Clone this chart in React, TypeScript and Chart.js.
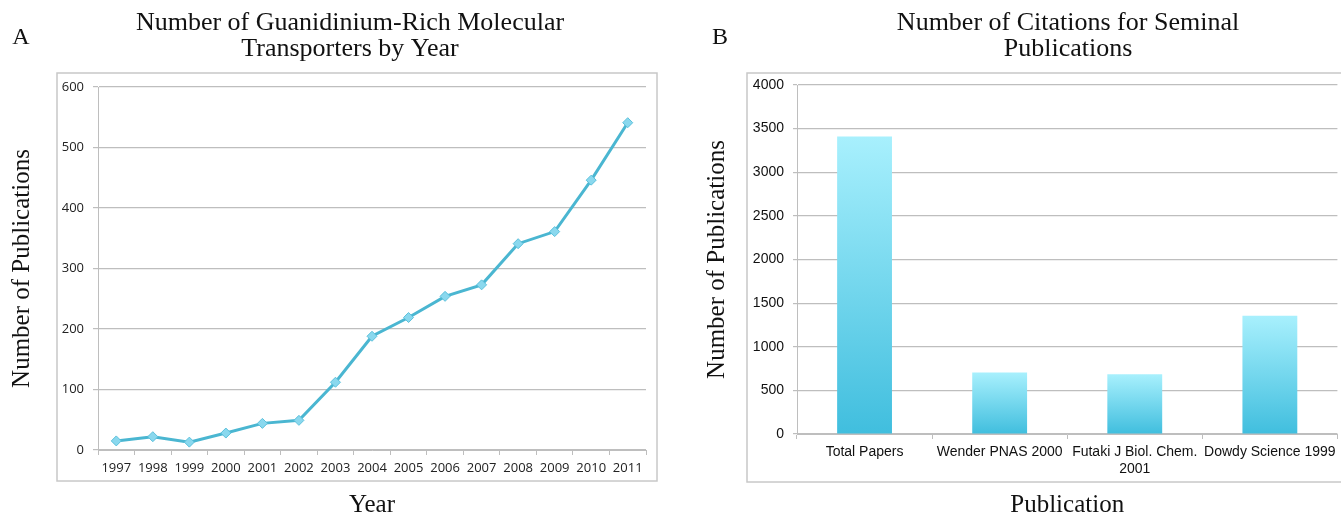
import React, { useEffect, useRef } from "react";
import { Chart, registerables } from "chart.js";

Chart.register(...registerables);

// ---------- Data ----------
const years = ["1997", "1998", "1999", "2000", "2001", "2002", "2003", "2004", "2005", "2006", "2007", "2008", "2009", "2010", "2011"];
const transporterCounts = [15, 22, 13, 28, 44, 49, 112, 188, 219, 254, 273, 341, 361, 446, 541];
const yMaxA = 600;
const yStepA = 100;

const publications: (string | string[])[] = ["Total Papers", "Wender PNAS 2000", ["Futaki J Biol. Chem.", "2001"], "Dowdy Science 1999"];
const citationCounts = [3410, 705, 685, 1355];
const yMaxB = 4000;
const yStepB = 500;

const titleA = ["Number of Guanidinium-Rich Molecular", "Transporters by Year"];
const titleB = ["Number of Citations for Seminal", "Publications"];
const yTitle = "Number of Publications";
const xTitleA = "Year";
const xTitleB = "Publication";

// ---------- Styling ----------
const SERIF = '"Liberation Serif", "Times New Roman", serif';
const GRID = "#BEBEBE";
const BOX = "#C8C8C8";
const H = 515;

const decorPlugin = {
  id: "decor",
  beforeDraw(chart: any, _args: any, opts: any) {
    const ctx = chart.ctx;
    ctx.save();
    ctx.fillStyle = "#ffffff";
    ctx.fillRect(0, 0, chart.width, chart.height);
    const [l, t, r, b] = opts.box;
    ctx.strokeStyle = BOX;
    ctx.lineWidth = 1.5;
    ctx.strokeRect(l, t, r - l, b - t);
    ctx.restore();
  },
  afterDraw(chart: any, _args: any, opts: any) {
    const ctx = chart.ctx;
    ctx.save();
    ctx.fillStyle = "#111";
    ctx.textBaseline = "middle";
    ctx.textAlign = "center";
    ctx.font = `24px ${SERIF}`;
    ctx.fillText(opts.letter, opts.letterX, opts.letterY);
    ctx.font = `26px ${SERIF}`;
    opts.title.forEach((line: string, i: number) => {
      ctx.fillText(line, opts.titleX, opts.titleY + i * 26);
    });
    ctx.restore();
  },
};

function makeLineConfig(): any {
  return {
    type: "line",
    data: {
      labels: years,
      datasets: [
        {
          data: transporterCounts,
          borderColor: "#4AB6D1",
          borderWidth: 3,
          pointStyle: "rectRot",
          pointRadius: 5,
          pointBackgroundColor: "#8AD8EE",
          pointBorderColor: "#5CC1DC",
          pointBorderWidth: 1,
          tension: 0,
        },
      ],
    },
    options: {
      responsive: false,
      animation: false,
      devicePixelRatio: 1,
      layout: { padding: { top: 87, right: 24, left: 0, bottom: 0 } },
      plugins: {
        legend: { display: false },
        tooltip: { enabled: false },
        decor: {
          box: [57, 73, 657, 481],
          letter: "A",
          letterX: 21,
          letterY: 38,
          title: titleA,
          titleX: 350,
          titleY: 23,
        },
      },
      scales: {
        x: {
          offset: true,
          grid: { display: true, drawOnChartArea: false, drawTicks: true, tickLength: 5, offset: true, color: GRID },
          border: { color: GRID },
          ticks: { color: "#222", font: { family: '"Open Sans", sans-serif', size: 13 }, padding: 5, maxRotation: 0, autoSkip: false },
          title: { display: true, text: xTitleA, color: "#111", font: { family: SERIF, size: 25, lineHeight: 0.8 }, padding: { top: 0, bottom: 0 } },
          afterFit: (s: any) => {
            s.height = 65;
          },
        },
        y: {
          min: 0,
          max: yMaxA,
          ticks: { stepSize: yStepA, color: "#222", font: { family: '"Open Sans", sans-serif', size: 13 }, padding: 9, callback: (v: any) => String(v) },
          grid: { color: GRID, tickLength: 5, lineWidth: 1.2 },
          border: { color: GRID },
          title: { display: true, text: yTitle, color: "#111", font: { family: SERIF, size: 25, lineHeight: 1 }, padding: { top: 9.5, bottom: 0 } },
          afterFit: (s: any) => {
            s.width = 98;
          },
        },
      },
    },
    plugins: [decorPlugin],
  };
}

function makeBarConfig(): any {
  return {
    type: "bar",
    data: {
      labels: publications,
      datasets: [
        {
          data: citationCounts,
          categoryPercentage: 1,
          barPercentage: 0.406,
          borderWidth: 0,
          backgroundColor: (c: any) => {
            const chart = c.chart;
            if (!chart.chartArea || c.type !== "data" || !chart.scales.y) return "#6FD3EC";
            const v = c.parsed ? c.parsed.y : citationCounts[c.dataIndex];
            const top = chart.scales.y.getPixelForValue(v);
            const base = chart.scales.y.getPixelForValue(0);
            const g = chart.ctx.createLinearGradient(0, top, 0, base);
            g.addColorStop(0, "#A8F0FD");
            g.addColorStop(1, "#40BEDE");
            return g;
          },
        },
      ],
    },
    options: {
      responsive: false,
      animation: false,
      devicePixelRatio: 1,
      layout: { padding: { top: 85, right: 3, left: 0, bottom: 0 } },
      plugins: {
        legend: { display: false },
        tooltip: { enabled: false },
        decor: {
          box: [57, 73, 700, 482],
          letter: "B",
          letterX: 30,
          letterY: 38,
          title: titleB,
          titleX: 378,
          titleY: 23,
        },
      },
      scales: {
        x: {
          grid: { display: true, drawOnChartArea: false, drawTicks: true, tickLength: 5, offset: true, color: GRID },
          border: { color: GRID },
          ticks: { color: "#111", font: { family: '"Liberation Sans", Arial, sans-serif', size: 14 }, padding: 5, maxRotation: 0, autoSkip: false },
          title: { display: true, text: xTitleB, color: "#111", font: { family: SERIF, size: 25, lineHeight: 0.8 }, padding: { top: 0, bottom: 0 } },
          afterFit: (s: any) => {
            s.height = 81;
          },
        },
        y: {
          min: 0,
          max: yMaxB,
          ticks: { stepSize: yStepB, color: "#111", font: { family: '"Liberation Sans", Arial, sans-serif', size: 14 }, padding: 9, callback: (v: any) => String(v) },
          grid: { color: GRID, tickLength: 4, lineWidth: 1.2 },
          border: { color: GRID },
          title: { display: true, text: yTitle, color: "#111", font: { family: SERIF, size: 25, lineHeight: 1 }, padding: { top: 14.5, bottom: 0 } },
          afterFit: (s: any) => {
            s.width = 107;
          },
        },
      },
    },
    plugins: [decorPlugin],
  };
}

function ChartCanvas({ left, width, make }: { left: number; width: number; make: () => any }) {
  const ref = useRef<HTMLCanvasElement | null>(null);
  useEffect(() => {
    if (!ref.current) return;
    const chart = new Chart(ref.current, make());
    return () => chart.destroy();
  }, [make]);
  return (
    <canvas
      ref={ref}
      width={width}
      height={H}
      style={{ position: "absolute", left, top: 0, width, height: H, display: "block" }}
    />
  );
}

export default function App() {
  return (
    <div style={{ position: "fixed", left: 0, top: 0, width: 1341, height: H, background: "#fff", overflow: "hidden" }}>
      <ChartCanvas left={0} width={670} make={makeLineConfig} />
      <ChartCanvas left={690} width={651} make={makeBarConfig} />
    </div>
  );
}
